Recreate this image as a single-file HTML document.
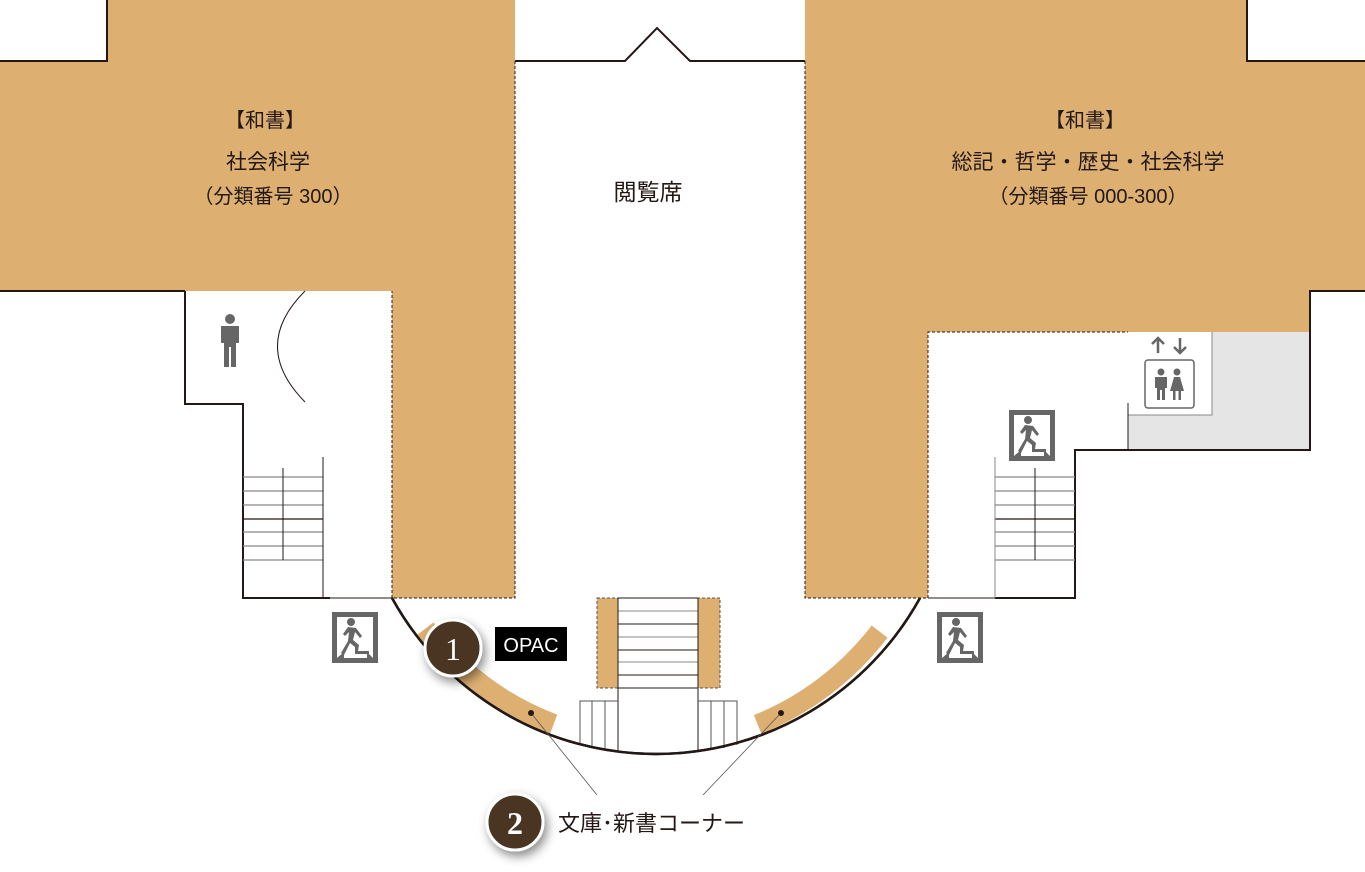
<!DOCTYPE html>
<html><head><meta charset="utf-8"><style>
html,body{margin:0;padding:0;background:#fff;}
svg{display:block;}
text{font-family:"Liberation Sans","Noto Sans CJK JP",sans-serif;fill:#231815;}
</style></head><body>
<svg width="1365" height="872" viewBox="0 0 1365 872" xmlns="http://www.w3.org/2000/svg">
<defs>
<filter id="sh" x="-50%" y="-50%" width="200%" height="200%"><feDropShadow dx="3" dy="5" stdDeviation="5" flood-color="#000" flood-opacity="0.45"/></filter>
<g id="exit">
<rect x="0" y="0" width="46" height="51" fill="#666"/>
<rect x="5" y="5" width="36" height="41" fill="#fff"/>
<path d="M5 46 L12 40 L12 46Z M41 46 L35 40 L35 46Z" fill="#666"/>
<circle cx="19" cy="10" r="4" fill="#666"/>
<path d="M16 15 L24 16 L30 24 L28 26 L23 20 L21 28 L27 33 L26 39 L37 39 L37 42 L23 42 L23 35 L18 31 L12 43 L9 41 L16 29 L17 20 L13 24 L11 22Z" fill="#666"/>
</g>
</defs>
<polygon points="107,0 515,0 515,598 392,598 392,291 0,291 0,61 107,61" fill="#ddaf71"/>
<polyline points="107,0 107,61 0,61" fill="none" stroke="#231815" stroke-width="2"/>
<line x1="0" y1="291" x2="185" y2="291" stroke="#231815" stroke-width="2"/>
<path d="M515,61 L515,598 L392,598 L392,291" fill="none" stroke="#231815" stroke-width="1" stroke-dasharray="3,2"/>
<polygon points="805,0 1247,0 1247,61 1365,61 1365,291 1310,291 1310,332 928,332 928,598 805,598" fill="#ddaf71"/>
<polyline points="1247,0 1247,61 1365,61" fill="none" stroke="#231815" stroke-width="2"/>
<polyline points="1365,291 1310,291 1310,450 1075,450 1075,598 995,598" fill="none" stroke="#231815" stroke-width="2"/>
<path d="M805,61 L805,598 L928,598 L928,332 L1128,332" fill="none" stroke="#231815" stroke-width="1" stroke-dasharray="3,2"/>
<rect x="1128" y="332" width="181" height="117" fill="#e5e5e5"/>
<rect x="1128" y="332" width="84" height="83" fill="#fff"/>
<polyline points="1128,415 1212,415 1212,332" fill="none" stroke="#888" stroke-width="1"/>
<line x1="1128" y1="403" x2="1128" y2="450" stroke="#231815" stroke-width="1"/>
<polyline points="515,61 625,61 657,28 690,61 805,61" fill="none" stroke="#231815" stroke-width="2"/>
<polyline points="185,291 185,404 243,404 243,598 330,598" fill="none" stroke="#231815" stroke-width="2"/>
<line x1="330" y1="598" x2="392" y2="598" stroke="#231815" stroke-width="1"/>
<path d="M305,291 Q250,346 305,402" fill="none" stroke="#231815" stroke-width="1"/>
<g stroke="#888" stroke-width="1.2">
<line x1="243" y1="477" x2="323" y2="477"/><line x1="243" y1="491" x2="323" y2="491"/><line x1="243" y1="505" x2="323" y2="505"/><line x1="243" y1="519" x2="323" y2="519" stroke="#231815"/><line x1="243" y1="532" x2="323" y2="532"/><line x1="243" y1="546" x2="323" y2="546"/><line x1="243" y1="560" x2="323" y2="560"/>
</g>
<line x1="283" y1="468" x2="283" y2="560" stroke="#231815"/>
<line x1="323" y1="457" x2="323" y2="598" stroke="#231815"/>
<g stroke="#888" stroke-width="1.2">
<line x1="995" y1="477" x2="1075" y2="477"/><line x1="995" y1="491" x2="1075" y2="491"/><line x1="995" y1="505" x2="1075" y2="505"/><line x1="995" y1="519" x2="1075" y2="519" stroke="#231815"/><line x1="995" y1="532" x2="1075" y2="532"/><line x1="995" y1="546" x2="1075" y2="546"/><line x1="995" y1="560" x2="1075" y2="560"/>
</g>
<line x1="1035" y1="468" x2="1035" y2="560" stroke="#231815"/>
<line x1="995" y1="457" x2="995" y2="598" stroke="#888"/>
<line x1="928" y1="598" x2="995" y2="598" stroke="#231815" stroke-width="1"/>
<!-- shelf arcs (inside the wall arc) -->
<path d="M425.5,628.6 A290,290 0 0 0 553.7,724.0" fill="none" stroke="#ddaf71" stroke-width="20"/>
<path d="M757.6,724.4 A290,290 0 0 0 879.6,631.6" fill="none" stroke="#ddaf71" stroke-width="20"/>
<path d="M392,598 A301.4,301.4 0 0 0 920,598" fill="none" stroke="#231815" stroke-width="2.5"/>
<rect x="597" y="598" width="123" height="90" fill="#ddaf71" stroke="#555" stroke-dasharray="3,2" stroke-width="1"/>
<rect x="618" y="598" width="80" height="150" fill="#fff"/>
<g stroke="#231815" stroke-width="1">
<line x1="618" y1="598" x2="698" y2="598"/>
<line x1="618" y1="611" x2="698" y2="611" stroke="#888"/><line x1="618" y1="624" x2="698" y2="624"/><line x1="618" y1="637" x2="698" y2="637" stroke="#888"/><line x1="618" y1="650" x2="698" y2="650"/><line x1="618" y1="662" x2="698" y2="662" stroke="#888"/><line x1="618" y1="675" x2="698" y2="675"/><line x1="618" y1="688" x2="698" y2="688"/>
<line x1="618" y1="598" x2="618" y2="750"/><line x1="698" y1="598" x2="698" y2="750"/>
<polyline points="618,701 580,701 580,745" fill="none" stroke="#555"/>
<polyline points="698,701 737,701 737,745" fill="none" stroke="#555"/>
<line x1="592" y1="701" x2="592" y2="748" stroke="#555"/><line x1="605" y1="701" x2="605" y2="750" stroke="#555"/>
<line x1="711" y1="701" x2="711" y2="750" stroke="#555"/><line x1="724" y1="701" x2="724" y2="748" stroke="#555"/>
</g>
<path d="M392,598 A301.4,301.4 0 0 0 920,598" fill="none" stroke="#231815" stroke-width="2.5"/>
<line x1="531" y1="713" x2="597" y2="795" stroke="#555" stroke-width="0.8"/>
<line x1="781" y1="713" x2="703" y2="795" stroke="#555" stroke-width="0.8"/>
<circle cx="531" cy="713" r="3" fill="#231815"/>
<circle cx="781" cy="713" r="3" fill="#231815"/>
<use href="#exit" x="332" y="612"/>
<use href="#exit" x="937" y="612"/>
<use href="#exit" x="1009" y="410"/>
<g fill="#666">
<circle cx="230" cy="319" r="5"/>
<path d="M221,326 h18 v17 h-3 v24 h-5 v-20 h-2 v20 h-5 v-24 h-3z"/>
</g>
<g stroke="#666" stroke-width="2.5" fill="none">
<path d="M1158,353 v-14 M1152,344 l6,-6 l6,6"/>
<path d="M1180,338 v14 M1174,347 l6,6 l6,-6"/>
</g>
<rect x="1145" y="360" width="49" height="48" rx="3" fill="#fff" stroke="#666" stroke-width="1.5"/>
<g fill="#666">
<circle cx="1161" cy="372" r="3.5"/><path d="M1155,377 h12 v11 h-2 v12 h-3 v-10 h-2 v10 h-3 v-12 h-2z"/>
<circle cx="1177" cy="372" r="3.5"/><path d="M1174,377 h6 l4,14 h-3 v9 h-2.5 v-9 h-3 v9 h-2.5 v-9 h-3z"/>
</g>
<rect x="495" y="627" width="72" height="34" fill="#000"/>
<text x="531" y="652" font-size="20" text-anchor="middle" style="fill:#fff">OPAC</text>
<g filter="url(#sh)">
<circle cx="453" cy="648" r="28" fill="#4a3520" stroke="#fff" stroke-width="3"/>
<circle cx="515" cy="822" r="28" fill="#4a3520" stroke="#fff" stroke-width="3"/>
</g>
<text x="453" y="660" font-size="32" text-anchor="middle" style="fill:#fff;font-family:'Liberation Serif',serif">1</text>
<text x="515" y="834" font-size="32" text-anchor="middle" style="fill:#fff;font-family:'Liberation Serif',serif;font-weight:bold">2</text>
<text x="558" y="831" font-size="22">文庫･新書コーナー</text>
<g text-anchor="middle">
<text x="265" y="127" font-size="20">【和書】</text>
<text x="268" y="169" font-size="21">社会科学</text>
<text x="273" y="203" font-size="20">（分類番号 300）</text>
<text x="648" y="200" font-size="23">閲覧席</text>
<text x="1085" y="127" font-size="20">【和書】</text>
<text x="1088" y="169" font-size="21">総記・哲学・歴史・社会科学</text>
<text x="1088" y="203" font-size="20">（分類番号 000-300）</text>
</g>
</svg>
</body></html>
